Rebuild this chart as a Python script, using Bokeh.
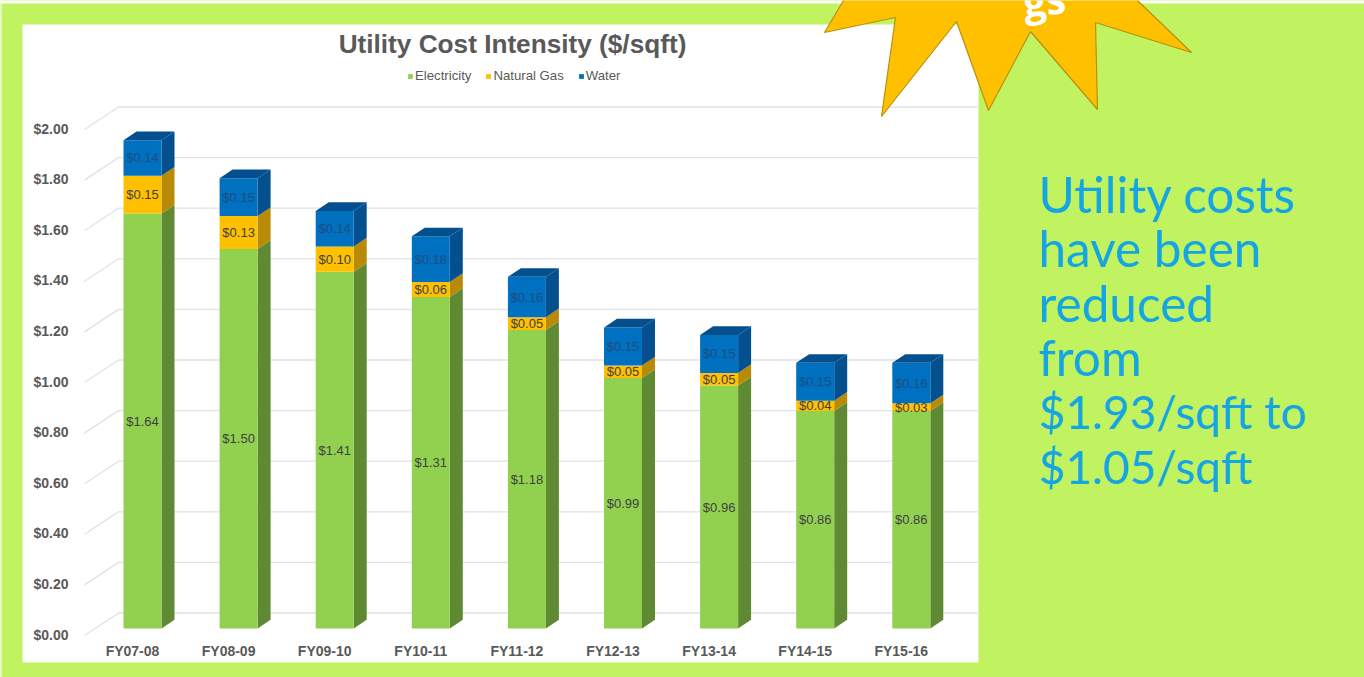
from bokeh.plotting import figure
from bokeh.embed import file_html
from bokeh.resources import INLINE
from bokeh.core.properties import value
from bokeh.models import Range1d, LinearAxis, FixedTicker, NumeralTickFormatter, Legend, LegendItem

# ---- data
categories = ["FY07-08", "FY08-09", "FY09-10", "FY10-11", "FY11-12", "FY12-13", "FY13-14", "FY14-15", "FY15-16"]
electricity = [1.64, 1.50, 1.41, 1.31, 1.18, 0.99, 0.96, 0.86, 0.86]
natural_gas = [0.15, 0.13, 0.10, 0.06, 0.05, 0.05, 0.05, 0.04, 0.03]
water = [0.14, 0.15, 0.14, 0.18, 0.16, 0.15, 0.15, 0.15, 0.16]
y_ticks = [0.0, 0.2, 0.4, 0.6, 0.8, 1.0, 1.2, 1.4, 1.6, 1.8, 2.0]
note_words = ["Utility costs", "have been", "reduced", "from"]
note_figures = ["$1.93/sqft to", "$1.05/sqft"]

# ---- layout (reference pixels)
PAGE = 0
W, H = 1364, 677
PX_PER_DOLLAR = 253.0
PX_PER_CAT = 96.1
BAR_X0, BAR_Y0 = 142.0, 628.0
BAR_HALF = 19.0
DX, DY = 13.0 / PX_PER_CAT, 8.7 / PX_PER_DOLLAR
FONT = value("Liberation Sans")

def yr(y0):
    return Range1d((y0 - (PAGE + H)) / PX_PER_DOLLAR, (y0 - PAGE) / PX_PER_DOLLAR)

def xr(x0):
    return Range1d((PAGE - x0) / PX_PER_CAT, (PAGE + W - x0) / PX_PER_CAT)

p = figure(width=W, height=H, output_backend="svg", toolbar_location=None,
           x_range=xr(BAR_X0), y_range=yr(BAR_Y0), min_border=0, outline_line_color=None,
           x_axis_type=None, y_axis_type=None)
p.grid.visible = False
p.background_fill_color = "#c1f260"
p.border_fill_color = "#c1f260"
p.extra_x_ranges = {"px": Range1d(PAGE, PAGE + W), "label": xr(132.0)}
p.extra_y_ranges = {"px": Range1d(PAGE + H, PAGE), "axis": yr(634.0)}

# white slide edges and white chart panel
p.quad(left=[0, 0, 22], right=[1364, 1, 978], top=[0, 0, 24], bottom=[3, 677, 662],
       fill_color="white", line_color=None, x_range_name="px", y_range_name="px")

# back wall and side wall gridlines
wall = (BAR_Y0 - 612.5) / PX_PER_DOLLAR
front = (BAR_Y0 - 635.0) / PX_PER_DOLLAR
p.multi_line(xs=[[84, 118, 978] for _ in y_ticks],
             ys=[[t + front, t + wall, t + wall] for t in y_ticks],
             line_color="#e0e3e6", line_width=1.3, x_range_name="px")

# stacked 3-D bars
series = [("Electricity", electricity, "#92d050", "#5f8a33"),
          ("Natural Gas", natural_gas, "#ffc000", "#b98a06"),
          ("Water", water, "#0070c0", "#04508f")]
hw = BAR_HALF / PX_PER_CAT
idx = list(range(len(categories)))
base = [0.0] * len(idx)
items = []
for name, vals, col, dark in series:
    tops = [b + v for b, v in zip(base, vals)]
    p.patches(xs=[[i + hw, i + hw + DX, i + hw + DX, i + hw] for i in idx],
              ys=[[b, b + DY, t + DY, t] for b, t in zip(base, tops)],
              fill_color=dark, line_color=None)
    r = p.quad(left=[i - hw for i in idx], right=[i + hw for i in idx], bottom=base, top=tops,
               fill_color=col, line_color=None)
    items.append(LegendItem(label=name, renderers=[r]))
    lab_col = "#1d4f7c" if name == "Water" else "#404040"
    p.text(x=idx, y=[(b + t) / 2 for b, t in zip(base, tops)],
           text=["$%.2f" % v for v in vals], text_font=FONT, text_font_size="13px",
           text_color=lab_col, text_align="center", text_baseline="middle")
    base = tops
p.patches(xs=[[i - hw, i + hw, i + hw + DX, i - hw + DX] for i in idx],
          ys=[[t, t, t + DY, t + DY] for t in base], fill_color="#04508f", line_color=None)

# axes: placed on the frame
yax = LinearAxis(y_range_name="axis", x_range_name="label", fixed_location=(68 - 132.0) / PX_PER_CAT,
                 ticker=FixedTicker(ticks=y_ticks), formatter=NumeralTickFormatter(format="$0.00"))
xax = LinearAxis(x_range_name="label", y_range_name="axis", fixed_location=(634 - 642.0) / PX_PER_DOLLAR,
                 ticker=FixedTicker(ticks=idx), major_label_overrides={i: c for i, c in zip(idx, categories)})
for ax in (yax, xax):
    ax.axis_line_color = None
    ax.major_tick_line_color = None
    ax.minor_tick_line_color = None
    ax.major_tick_in = 0
    ax.major_tick_out = 0
    ax.major_label_standoff = 0
    ax.major_label_text_font = "Liberation Sans"
    ax.major_label_text_font_size = "14px"
    ax.major_label_text_font_style = "bold"
    ax.major_label_text_color = "#595959"
p.add_layout(yax, "left")
p.add_layout(xax, "below")

# title
p.text(x=[512], y=[43.5], text=["Utility Cost Intensity ($/sqft)"], text_font=FONT, text_font_size="26.2px",
       text_font_style="bold", text_color="#595959", text_align="center", text_baseline="middle",
       x_range_name="px", y_range_name="px")

# legend
legend = Legend(items=items, orientation="horizontal", location=(407, H - 83), padding=0, margin=0,
                spacing=14, glyph_width=6, glyph_height=6, label_standoff=2,
                label_text_font="Liberation Sans", label_text_font_size="13.2px", label_text_color="#595959",
                border_line_color=None, background_fill_alpha=0)
p.add_layout(legend, "center")

# star badge
star_x = [843, 824, 895, 881, 956, 988, 1030, 1097, 1095, 1191, 1137, 1137, 843]
star_y = [0, 32, 17, 116, 21, 110, 31, 109, 22, 52, 0, -40, -40]
p.patch(star_x, star_y, fill_color="#ffc000", line_color="#b8900f", line_width=1.2,
        x_range_name="px", y_range_name="px")
p.text(x=[1065], y=[-3], text=["gs"], text_font=value("Open Sans"), text_font_size="40px", text_font_style="bold",
       text_color="white", text_align="right", text_baseline="alphabetic", angle=[0.1],
       x_range_name="px", y_range_name="px")

# side note
for lines, first, size in ((note_words, 0, "49.5px"), (note_figures, 4, "46px")):
    p.text(x=[1038] * len(lines), y=[193.5 + 54.4 * (first + i) for i in range(len(lines))], text=lines,
           text_font=value("Lato"), text_font_size=size, text_color="#14a5e2",
           text_align="left", text_baseline="alphabetic", x_range_name="px", y_range_name="px")

open("out.html", "w").write(file_html(p, INLINE))
